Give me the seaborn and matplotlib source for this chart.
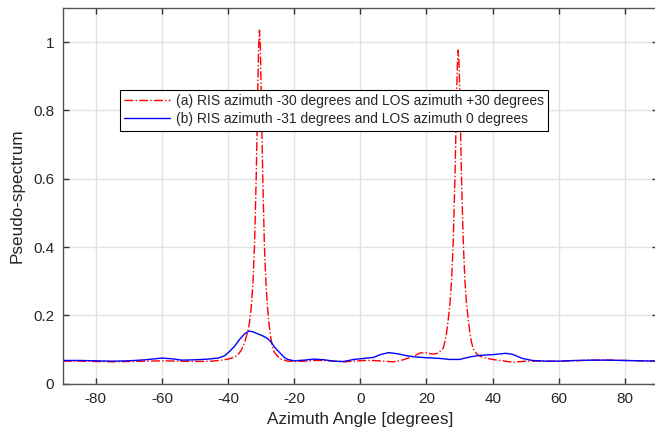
import numpy as np
import pandas as pd
import matplotlib
matplotlib.use("Agg")
import matplotlib.pyplot as plt
import seaborn as sns

# ---- data ----
red_angle = [-90, -85, -80, -75, -70, -65, -60, -55, -50, -45, -42, -40, -38, -37, -36, -35, -34,
             -33.5, -33, -32.5, -32, -31.5, -31.25, -31, -30.75, -30.5, -30.25, -30, -29.75, -29.5,
             -29, -28.5, -28, -27.5, -27, -26.5, -26, -25, -24, -22, -20, -17, -14, -11, -8, -5, -2,
             1, 4, 7, 10, 13, 16, 18, 20, 22, 23, 24.1, 25.1, 25.6, 26.1, 26.6, 27.1, 27.6, 28.1,
             28.6, 28.85, 29.1, 29.35, 29.6, 29.85, 30.1, 30.35, 30.6, 31.1, 31.6, 32.1, 32.6, 33.1,
             33.6, 34.1, 35.1, 36, 38, 40, 43, 46, 50, 55, 60, 65, 70, 75, 80, 85, 90]
red_value = [0.066, 0.066, 0.065, 0.064, 0.065, 0.066, 0.067, 0.066, 0.065, 0.066, 0.069, 0.072,
             0.078, 0.085, 0.098, 0.120, 0.155,
             0.180, 0.223, 0.290, 0.405, 0.600, 0.730, 0.870, 0.990, 1.035, 0.990, 0.870, 0.730,
             0.600, 0.400, 0.285, 0.215, 0.165, 0.130, 0.105, 0.092, 0.080, 0.072, 0.066, 0.065,
             0.066, 0.068, 0.068, 0.066, 0.064, 0.066,
             0.068, 0.068, 0.066, 0.064, 0.070, 0.080, 0.090, 0.090, 0.087, 0.088, 0.095, 0.105,
             0.125, 0.150, 0.190, 0.235, 0.305, 0.420,
             0.600, 0.720, 0.840, 0.937, 0.977, 0.937, 0.840, 0.720, 0.600, 0.420, 0.305, 0.235,
             0.190, 0.150,
             0.122, 0.103, 0.088, 0.081, 0.075, 0.071, 0.067, 0.063, 0.066, 0.066, 0.066, 0.067,
             0.069, 0.069, 0.068, 0.067, 0.066]

blue_angle = [-90, -85, -80, -75, -70, -65, -60, -57, -54, -50, -46, -43, -41, -39.5, -38, -36.5,
              -35, -33.7, -32.5, -31, -29.5, -28, -27, -26, -25, -24, -23, -22, -20, -17, -14, -11,
              -8, -5, -2, 1, 4, 6, 8.5, 11, 14, 17, 20, 24, 27, 30, 33, 36, 40, 44, 46, 49, 52, 56,
              60, 65, 70, 75, 80, 85, 90]
blue_value = [0.068, 0.068, 0.067, 0.066, 0.067, 0.070, 0.075, 0.073, 0.069, 0.070, 0.072, 0.075,
              0.082, 0.095, 0.110, 0.130, 0.146, 0.154, 0.152, 0.146, 0.140, 0.132, 0.122, 0.108,
              0.097, 0.087, 0.077, 0.071, 0.067, 0.069, 0.072, 0.070, 0.066, 0.065, 0.071, 0.074,
              0.077, 0.085, 0.091, 0.088, 0.082, 0.078, 0.076, 0.074, 0.071, 0.071, 0.078, 0.083,
              0.085, 0.089, 0.086, 0.074, 0.068, 0.066, 0.066, 0.068, 0.069, 0.069, 0.068, 0.067,
              0.066]

label_a = "(a) RIS azimuth -30 degrees and LOS azimuth +30 degrees"
label_b = "(b) RIS azimuth -31 degrees and LOS azimuth 0 degrees"
x_ticks = [-80, -60, -40, -20, 0, 20, 40, 60, 80]
y_ticks = [0, 0.2, 0.4, 0.6, 0.8, 1]
y_tick_labels = ["0", "0.2", "0.4", "0.6", "0.8", "1"]

# ---- style ----
sns.set_style("whitegrid")
plt.rcParams["font.family"] = ["Liberation Sans", "DejaVu Sans"]

fig = plt.figure(figsize=(6.55, 4.33), dpi=100)
ax = fig.add_axes([62.7 / 655, (433 - 383.7) / 433, (658 - 62.7) / 655, (383.7 - 8) / 433])

df_a = pd.DataFrame({"angle": red_angle, "value": red_value})
df_b = pd.DataFrame({"angle": blue_angle, "value": blue_value})

sns.lineplot(data=df_a, x="angle", y="value", ax=ax, color="#ff0000", linestyle="-.",
             linewidth=1.0, label=label_a, estimator=None, sort=False)
sns.lineplot(data=df_b, x="angle", y="value", ax=ax, color="#0000ff", linestyle="-",
             linewidth=1.0, label=label_b, estimator=None, sort=False)

ax.set_xlim(-90, 90)
ax.set_ylim(0, 1.1)
ax.set_xticks(x_ticks)
ax.set_xticklabels([str(t) for t in x_ticks])
ax.set_yticks(y_ticks)
ax.set_yticklabels(y_tick_labels)

ax.grid(True, color="#e3e3e3", linewidth=1.0)
for s in ax.spines.values():
    s.set_color("#555555")
    s.set_linewidth(1.0)
ax.tick_params(axis="both", direction="in", length=4, width=1.0, color="#333333",
               labelsize=11, labelcolor="#262626", top=True, right=True, left=True, bottom=True,
               pad=6)

ax.set_xlabel("Azimuth Angle [degrees]", fontsize=12.3, color="#262626", labelpad=4)
ax.set_ylabel("Pseudo-spectrum", fontsize=12.3, color="#262626", labelpad=6)

leg = ax.legend(loc="upper left", bbox_to_anchor=(120 / 655, 1 - 90 / 433),
                bbox_transform=fig.transFigure, fontsize=10, frameon=True, fancybox=False,
                framealpha=1, edgecolor="black", handlelength=3.3, handletextpad=0.45,
                borderpad=0.3, labelspacing=0.3, borderaxespad=0)
leg.get_frame().set_linewidth(0.8)

fig.savefig("out.png", dpi=100)
